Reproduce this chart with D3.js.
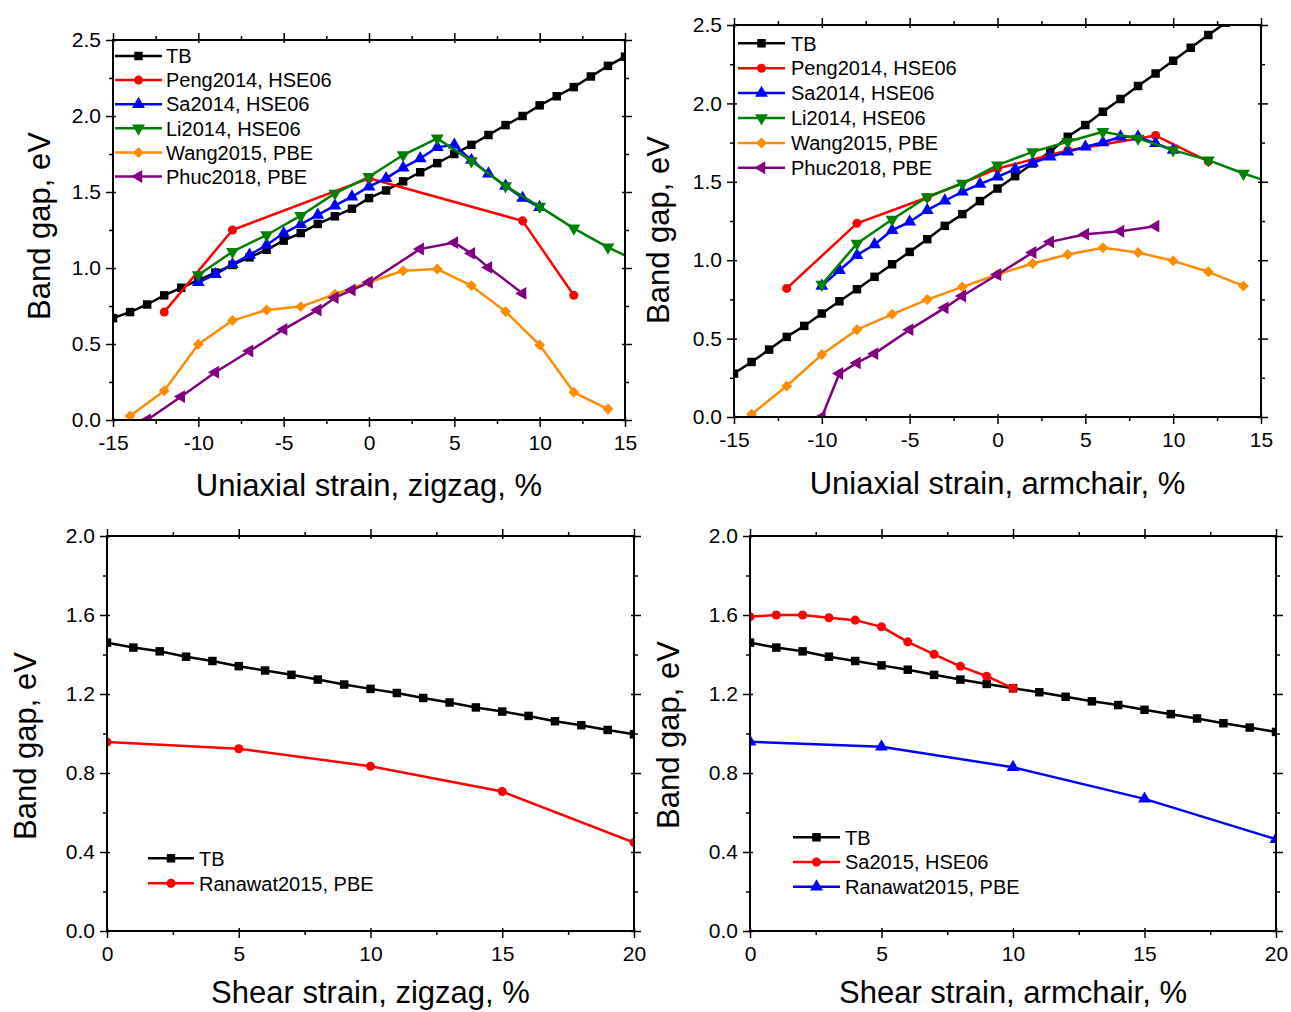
<!DOCTYPE html>
<meta charset="utf-8">
<title>Band gap vs strain</title>
<style>
    body {
        margin: 0;
        background-color: #fff;
    }

    svg {
        display: block;
        font-family: "Liberation Sans", Arial, sans-serif;
    }

    .linha {
        fill: none;
        stroke-width: 2.5px;
        stroke-linejoin: round;
    }

    .moldura {
        fill: none;
        stroke: #000;
        stroke-width: 2px;
    }

    .eixo path {
        display: none;
    }

    .eixo line {
        stroke: #000;
        stroke-width: 1.5px;
    }

    .eixo text {
        font-size: 21px;
        fill: #000;
    }

    .titulo {
        font-size: 31px;
        fill: #000;
    }

    .legenda text {
        font-size: 20px;
        fill: #000;
    }
</style>
<svg width="1291" height="1012"></svg>
<script src="https://cdn.jsdelivr.net/npm/d3@7/dist/d3.min.js"></script>
<script>
    // ---- uniaxial strain, zigzag ----
    var zzStrain = [-15, -14, -13, -12, -11, -10, -9, -8, -7, -6, -5, -4, -3, -2, -1, 0, 1, 2, 3, 4, 5, 6, 7, 8, 9, 10, 11, 12, 13, 14, 15];
    var zzTB = [0.67, 0.71, 0.76, 0.82, 0.87, 0.92, 0.97, 1.02, 1.07, 1.12, 1.18, 1.23, 1.29, 1.34, 1.39, 1.46, 1.51, 1.57, 1.63, 1.69, 1.75, 1.81, 1.875, 1.94, 2.00, 2.07, 2.13, 2.19, 2.26, 2.33, 2.39];
    var zzPengX = [-12, -8, 0, 9, 12];
    var zzPeng = [0.71, 1.25, 1.59, 1.31, 0.82];
    var zzSaX = [-10, -9, -8, -7, -6, -5, -4, -3, -2, -1, 0, 1, 2, 3, 4, 5, 6, 7, 8, 9, 10];
    var zzSa = [0.906, 0.958, 1.024, 1.086, 1.151, 1.228, 1.287, 1.349, 1.41, 1.469, 1.535, 1.59, 1.66, 1.72, 1.794, 1.81, 1.71, 1.62, 1.54, 1.46, 1.40];
    var zzLiX = [-10, -8, -6, -4, -2, 0, 2, 4, 6, 8, 10, 12, 14, 16];
    var zzLi = [0.954, 1.107, 1.217, 1.344, 1.491, 1.60, 1.743, 1.853, 1.704, 1.539, 1.404, 1.261, 1.136, 1.03];
    var zzWangX = [-14, -12, -10, -8, -6, -4, -2, 0, 2, 4, 6, 8, 10, 12, 14];
    var zzWang = [0.026, 0.193, 0.498, 0.654, 0.724, 0.746, 0.827, 0.906, 0.982, 0.993, 0.884, 0.713, 0.493, 0.182, 0.072];
    var zzPhucX = [-13, -11, -9, -7, -5, -3, -2, -1, 0, 3, 5, 6, 7, 9];
    var zzPhuc = [0.0, 0.154, 0.314, 0.454, 0.596, 0.724, 0.805, 0.855, 0.906, 1.125, 1.167, 1.096, 1.004, 0.833];

    // ---- uniaxial strain, armchair ----
    var acStrain = [-15, -14, -13, -12, -11, -10, -9, -8, -7, -6, -5, -4, -3, -2, -1, 0, 1, 2, 3, 4, 5, 6, 7, 8, 9, 10, 11, 12, 13];
    var acTB = [0.277, 0.351, 0.43, 0.511, 0.581, 0.66, 0.738, 0.815, 0.894, 0.974, 1.053, 1.134, 1.219, 1.294, 1.377, 1.457, 1.536, 1.617, 1.691, 1.787, 1.862, 1.947, 2.028, 2.111, 2.191, 2.272, 2.355, 2.436, 2.515];
    var acPengX = [-12, -8, -4, 0, 4, 9, 12];
    var acPeng = [0.82, 1.235, 1.40, 1.585, 1.70, 1.795, 1.63];
    var acSaX = [-10, -9, -8, -7, -6, -5, -4, -3, -2, -1, 0, 1, 2, 3, 4, 5, 6, 7, 8, 9, 10];
    var acSa = [0.836, 0.936, 1.032, 1.10, 1.191, 1.245, 1.319, 1.379, 1.436, 1.485, 1.532, 1.581, 1.621, 1.66, 1.691, 1.723, 1.751, 1.787, 1.787, 1.745, 1.702];
    var acLiX = [-10, -8, -6, -4, -2, 0, 2, 4, 6, 8, 10, 12, 14, 16];
    var acLi = [0.845, 1.106, 1.26, 1.404, 1.489, 1.606, 1.691, 1.755, 1.819, 1.777, 1.702, 1.638, 1.553, 1.48];
    var acWangX = [-14, -12, -10, -8, -6, -4, -2, 0, 2, 4, 6, 8, 10, 12, 14];
    var acWang = [0.017, 0.198, 0.398, 0.557, 0.655, 0.749, 0.83, 0.909, 0.979, 1.036, 1.079, 1.049, 0.996, 0.926, 0.836];
    var acPhucX = [-10, -9, -8, -7, -5, -3, -2, 0, 2, 3, 5, 7, 9];
    var acPhuc = [0.0, 0.277, 0.345, 0.404, 0.557, 0.696, 0.772, 0.909, 1.049, 1.117, 1.166, 1.185, 1.217];

    // ---- shear strain ----
    var shStrain = [0, 1, 2, 3, 4, 5, 6, 7, 8, 9, 10, 11, 12, 13, 14, 15, 16, 17, 18, 19, 20];
    var shzzTB = [1.46, 1.435, 1.416, 1.389, 1.367, 1.341, 1.319, 1.297, 1.273, 1.248, 1.226, 1.205, 1.18, 1.157, 1.132, 1.111, 1.089, 1.062, 1.042, 1.018, 0.996];
    var ranawatX = [0, 5, 10, 15, 20];
    var shzzRanawat = [0.957, 0.923, 0.834, 0.706, 0.448];
    var shacTB = [1.46, 1.435, 1.416, 1.389, 1.367, 1.345, 1.323, 1.297, 1.273, 1.251, 1.229, 1.209, 1.186, 1.163, 1.144, 1.12, 1.098, 1.076, 1.052, 1.03, 1.008];
    var sa2015X = [0, 1, 2, 3, 4, 5, 6, 7, 8, 9, 10];
    var shacSa = [1.591, 1.6, 1.6, 1.586, 1.574, 1.54, 1.464, 1.401, 1.34, 1.29, 1.229];
    var shacRanawat = [0.958, 0.933, 0.829, 0.669, 0.465];

    // ---- tick labels ----
    var uniXTicks = [-15, -10, -5, 0, 5, 10, 15];
    var uniYTicks = [0.0, 0.5, 1.0, 1.5, 2.0, 2.5];
    var shXTicks = [0, 5, 10, 15, 20];
    var shYTicks = [0.0, 0.4, 0.8, 1.2, 1.6, 2.0];

    var svg = d3.select("svg");

    var marcas = {
        quadrado: { tipo: d3.symbolSquare, area: 72, rot: 0 },
        circulo: { tipo: d3.symbolCircle, area: 64, rot: 0 },
        cima: { tipo: d3.symbolTriangle, area: 72, rot: 0 },
        baixo: { tipo: d3.symbolTriangle, area: 72, rot: 180 },
        esquerda: { tipo: d3.symbolTriangle, area: 72, rot: -90 },
        losango: { tipo: d3.symbolSquare, area: 60, rot: 45 }
    };

    function serie(nome, xs, ys, cor, marca) {
        return { nome: nome, x: xs, y: ys, cor: cor, marca: marca };
    }

    function meios(v) {
        return v.slice(1).map(function (d, i) { return (d + v[i]) / 2; });
    }

    function desenha(p) {
        var x = d3.scaleLinear().domain([p.xTicks[0], p.xTicks[p.xTicks.length - 1]]).range([p.left, p.right]);
        var y = d3.scaleLinear().domain([p.yTicks[0], p.yTicks[p.yTicks.length - 1]]).range([p.bottom, p.top]);
        var xMin = meios(p.xTicks), yMin = meios(p.yTicks);
        var g = svg.append("g");

        function eixo(ger, escala, valores, tam, fmt, tx, ty, pad) {
            g.append("g").attr("class", "eixo")
                .attr("transform", "translate(" + tx + "," + ty + ")")
                .call(ger(escala).tickValues(valores).tickSize(tam).tickPadding(pad || 5).tickFormat(fmt || ""));
        }

        // bottom / top
        eixo(d3.axisBottom, x, p.xTicks, 7, function (d) { return String(d); }, 0, p.bottom, 8);
        eixo(d3.axisTop, x, p.xTicks, 3, null, 0, p.bottom);
        eixo(d3.axisBottom, x, xMin, 4, null, 0, p.bottom);
        eixo(d3.axisTop, x, p.xTicks, 7, null, 0, p.top);
        eixo(d3.axisBottom, x, p.xTicks, 3, null, 0, p.top);
        eixo(d3.axisTop, x, xMin, 4, null, 0, p.top);
        // left / right
        eixo(d3.axisLeft, y, p.yTicks, 7, function (d) { return d.toFixed(1); }, p.left, 0, 5);
        eixo(d3.axisRight, y, p.yTicks, 3, null, p.left, 0);
        eixo(d3.axisLeft, y, yMin, 4, null, p.left, 0);
        eixo(d3.axisRight, y, p.yTicks, 7, null, p.right, 0);
        eixo(d3.axisLeft, y, p.yTicks, 3, null, p.right, 0);
        eixo(d3.axisRight, y, yMin, 4, null, p.right, 0);

        var clipId = "clip" + p.id;
        svg.append("clipPath").attr("id", clipId)
            .append("rect")
            .attr("x", p.left).attr("y", p.top)
            .attr("width", p.right - p.left).attr("height", p.bottom - p.top);

        var dados = g.append("g").attr("clip-path", "url(#" + clipId + ")");
        var linha = d3.line().x(function (d) { return x(d[0]); }).y(function (d) { return y(d[1]); });

        p.series.forEach(function (s) {
            var pts = s.x.map(function (v, i) { return [v, s.y[i]]; });
            var m = marcas[s.marca];
            dados.append("path").attr("class", "linha").attr("stroke", s.cor).attr("d", linha(pts));
            dados.selectAll(null).data(pts).enter().append("path")
                .attr("d", d3.symbol(m.tipo, m.area))
                .attr("fill", s.cor)
                .attr("transform", function (d) { return "translate(" + x(d[0]) + "," + y(d[1]) + ") rotate(" + m.rot + ")"; });
        });

        g.append("rect").attr("class", "moldura")
            .attr("x", p.left).attr("y", p.top)
            .attr("width", p.right - p.left).attr("height", p.bottom - p.top);

        // legend
        var leg = g.append("g").attr("class", "legenda");
        p.series.forEach(function (s, i) {
            var ly = p.leg.y + i * p.leg.dy;
            var m = marcas[s.marca];
            leg.append("line").attr("x1", p.leg.x0).attr("x2", p.leg.x1).attr("y1", ly).attr("y2", ly)
                .attr("stroke", s.cor).attr("stroke-width", 2.5);
            leg.append("path").attr("d", d3.symbol(m.tipo, m.area)).attr("fill", s.cor)
                .attr("transform", "translate(" + (p.leg.x0 + p.leg.x1) / 2 + "," + ly + ") rotate(" + m.rot + ")");
            leg.append("text").attr("x", p.leg.tx).attr("y", ly).attr("dy", "0.36em").text(s.nome);
        });

        // titles
        g.append("text").attr("class", "titulo")
            .attr("x", (p.left + p.right) / 2).attr("y", p.xTitY)
            .attr("text-anchor", "middle").text(p.xTitulo);
        g.append("text").attr("class", "titulo")
            .attr("transform", "translate(" + p.yTitX + "," + p.yTitC + ") rotate(-90)")
            .attr("text-anchor", "middle").text("Band gap, eV");
    }

    desenha({
        id: 1, left: 113, right: 625, top: 40, bottom: 420,
        xTicks: uniXTicks, yTicks: uniYTicks,
        xTitulo: "Uniaxial strain, zigzag, %", xTitY: 496, yTitX: 50, yTitC: 226,
        leg: { x0: 115, x1: 162, tx: 166, y: 56, dy: 24.1 },
        series: [
            serie("TB", zzStrain, zzTB, "#000000", "quadrado"),
            serie("Peng2014, HSE06", zzPengX, zzPeng, "#ff0000", "circulo"),
            serie("Sa2014, HSE06", zzSaX, zzSa, "#0000ff", "cima"),
            serie("Li2014, HSE06", zzLiX, zzLi, "#008000", "baixo"),
            serie("Wang2015, PBE", zzWangX, zzWang, "#ff8c00", "losango"),
            serie("Phuc2018, PBE", zzPhucX, zzPhuc, "#800080", "esquerda")
        ]
    });

    desenha({
        id: 2, left: 734, right: 1261, top: 25, bottom: 417,
        xTicks: uniXTicks, yTicks: uniYTicks,
        xTitulo: "Uniaxial strain, armchair, %", xTitY: 494, yTitX: 669, yTitC: 230,
        leg: { x0: 738, x1: 785, tx: 791, y: 43.3, dy: 24.9 },
        series: [
            serie("TB", acStrain, acTB, "#000000", "quadrado"),
            serie("Peng2014, HSE06", acPengX, acPeng, "#ff0000", "circulo"),
            serie("Sa2014, HSE06", acSaX, acSa, "#0000ff", "cima"),
            serie("Li2014, HSE06", acLiX, acLi, "#008000", "baixo"),
            serie("Wang2015, PBE", acWangX, acWang, "#ff8c00", "losango"),
            serie("Phuc2018, PBE", acPhucX, acPhuc, "#800080", "esquerda")
        ]
    });

    desenha({
        id: 3, left: 107, right: 634, top: 536, bottom: 931,
        xTicks: shXTicks, yTicks: shYTicks,
        xTitulo: "Shear strain, zigzag, %", xTitY: 1003, yTitX: 36, yTitC: 746,
        leg: { x0: 148, x1: 194, tx: 199, y: 858.3, dy: 25 },
        series: [
            serie("TB", shStrain, shzzTB, "#000000", "quadrado"),
            serie("Ranawat2015, PBE", ranawatX, shzzRanawat, "#ff0000", "circulo")
        ]
    });

    desenha({
        id: 4, left: 750, right: 1276, top: 536, bottom: 931,
        xTicks: shXTicks, yTicks: shYTicks,
        xTitulo: "Shear strain, armchair, %", xTitY: 1003, yTitX: 679, yTitC: 735,
        leg: { x0: 793, x1: 840, tx: 845, y: 837.3, dy: 24.7 },
        series: [
            serie("TB", shStrain, shacTB, "#000000", "quadrado"),
            serie("Sa2015, HSE06", sa2015X, shacSa, "#ff0000", "circulo"),
            serie("Ranawat2015, PBE", ranawatX, shacRanawat, "#0000ff", "cima")
        ]
    });
</script>
